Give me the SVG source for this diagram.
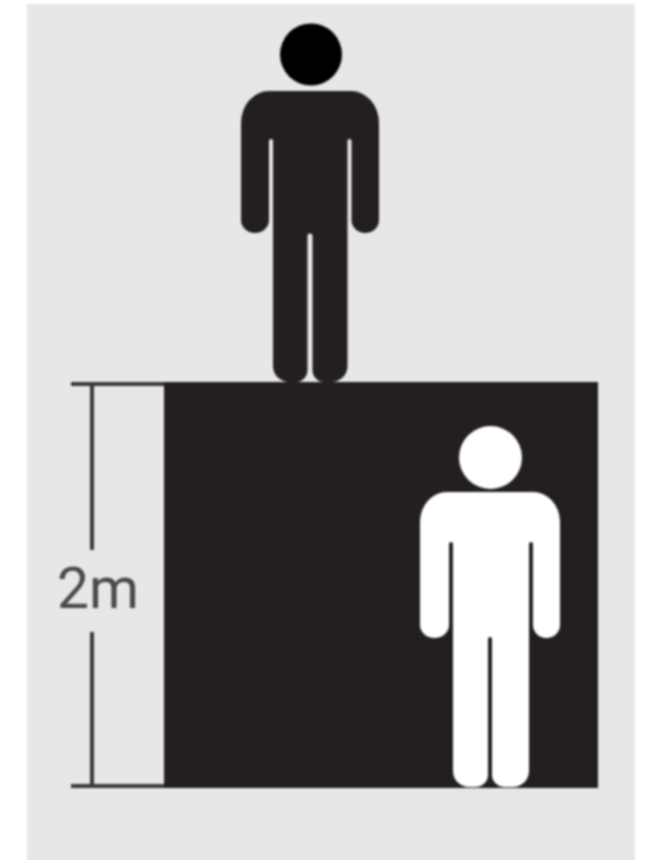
<svg xmlns="http://www.w3.org/2000/svg" width="646" height="860" viewBox="0 0 646 860">
  <style>
    .label { font-family: "Roboto", "Liberation Sans", sans-serif; font-weight: 400; font-size: 57px; fill: #4a4a4a; }
    .rule { stroke: #3a3839; stroke-width: 4; fill: none; }
  </style>
  <defs>
    <filter id="soft" x="-5%" y="-5%" width="110%" height="110%" color-interpolation-filters="sRGB"><feGaussianBlur stdDeviation="1"/></filter>
  </defs>
  <g filter="url(#soft)">
    <rect id="background" x="27" y="4" width="608" height="860" fill="#e7e7e7"/>
    <g id="platform"><rect x="164" y="382" width="434" height="406" fill="#231f20"/></g>
    <g id="person-above">
      <circle cx="311" cy="54.500" r="31" fill="#000"/>
      <path fill="#231f20" d="M269 91H351A28 32 0 0 1 379 123V220A13.750 13 0 0 1 351.500 220V141A2 2 0 0 0 347.500 141V366A16 16 0 0 1 331.500 382H324A11.500 12 0 0 1 312.500 370V236A2.500 2.500 0 0 0 307.500 236V370A11.500 12 0 0 1 296 382H289A16 16 0 0 1 273 366V141A2 2 0 0 0 269 141V220A14 13 0 0 1 241 220V123A28 32 0 0 1 269 91Z"/>
    </g>
    <g id="person-below">
      <circle cx="490.500" cy="457.500" r="31.500" fill="#fff"/>
      <path fill="#fff" d="M447 492H533A27 30 0 0 1 560 522V625A13.500 13 0 0 1 533 625V544A2 2 0 0 0 529 544V771A16 16 0 0 1 513 787H505A13 12 0 0 1 492 775V639A2 2 0 0 0 488 639V775A13 12 0 0 1 475 787H469A16 16 0 0 1 453 771V544A2 2 0 0 0 449 544V625A14.500 13 0 0 1 420 625V522A27 30 0 0 1 447 492Z"/>
    </g>
    <g id="connectors">
      <path class="rule" d="M71 384H164M71 786H164M92 384V550M92 632V786"/>
    </g>
    <g id="dimension-label"><text class="label" x="57" y="608">2m</text></g>
  </g>
</svg>
